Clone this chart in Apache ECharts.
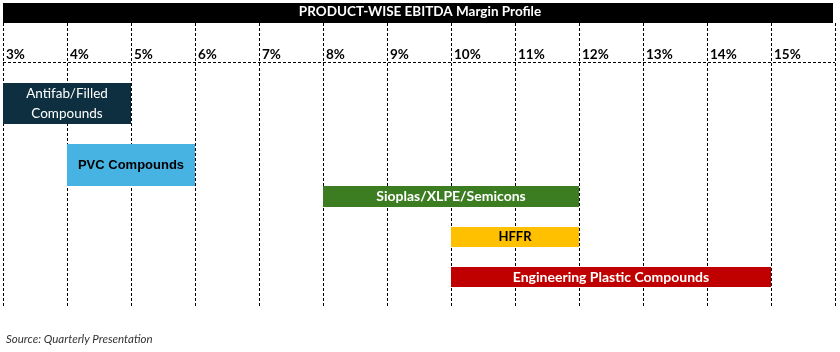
<!DOCTYPE html>
<html>
<head>
<meta charset="utf-8">
<script src="https://cdn.jsdelivr.net/npm/echarts@6/dist/echarts.min.js"></script>
<style>
  html, body { margin: 0; padding: 0; background: #ffffff; }
  #chart { width: 840px; height: 352px; }
</style>
</head>
<body>
<div id="chart"></div>
<script>
const PRODUCTS = [
  "Antifab/Filled\nCompounds",
  "PVC Compounds",
  "Sioplas/XLPE/Semicons",
  "HFFR",
  "Engineering Plastic Compounds",
];
const MARGIN_LOW = [3, 4, 8, 10, 10];
const MARGIN_HIGH = [5, 6, 12, 12, 15];
const AXIS_MIN = 3;
const AXIS_MAX = 16;

// vertical placement of each band inside the grid (px from grid top)
const BAND_LAYOUT = [
  { top: 60, height: 41 },
  { top: 121, height: 42 },
  { top: 163, height: 21 },
  { top: 204, height: 20 },
  { top: 244, height: 20 },
];
const BAND_STYLE = [
  { fill: "#0E2F40", text: "#ffffff", weight: "normal", font: "Lato", size: 13.5 },
  { fill: "#47B3E2", text: "#000000", weight: "bold", font: "Liberation Sans", size: 13 },
  { fill: "#3C7D22", text: "#ffffff", weight: "bold", font: "Lato", size: 14 },
  { fill: "#FFC000", text: "#000000", weight: "bold", font: "Lato", size: 13 },
  { fill: "#C00000", text: "#ffffff", weight: "bold", font: "Lato", size: 14 },
];

const chart = echarts.init(document.getElementById("chart"), null, { renderer: "canvas" });

chart.setOption({
  backgroundColor: "#ffffff",
  animation: false,
  grid: { left: 3, right: 5, top: 23, bottom: 45 },
  xAxis: {
    type: "value",
    position: "top",
    min: AXIS_MIN,
    max: AXIS_MAX,
    interval: 1,
    axisLine: { show: false },
    axisTick: { show: false },
    axisLabel: {
      inside: true,
      margin: 32,
      align: "left",
      verticalAlign: "middle",
      padding: [0, 0, 0, 3],
      color: "#000000",
      fontFamily: "Lato",
      fontWeight: "bold",
      fontSize: 13.5,
      formatter: (v) => (v >= AXIS_MAX ? "" : v + "%"),
    },
    splitLine: {
      show: true,
      lineStyle: { color: "#000000", width: 1, type: [3, 2] },
    },
  },
  yAxis: {
    type: "value",
    show: false,
    min: 0,
    max: 1,
    splitLine: { show: false },
  },
  graphic: [
    {
      type: "rect",
      left: 3,
      top: 3,
      shape: { width: 830, height: 20 },
      style: { fill: "#000000" },
    },
    {
      type: "text",
      left: "center",
      top: 5,
      style: {
        text: "PRODUCT-WISE EBITDA Margin Profile",
        fill: "#ffffff",
        font: "bold 13.5px Lato",
      },
    },
    {
      type: "line",
      shape: { x1: 3, y1: 62.5, x2: 835, y2: 62.5 },
      style: { stroke: "#000000", lineWidth: 1, lineDash: [3, 2] },
    },
    {
      type: "text",
      left: 6,
      top: 333,
      style: {
        text: "Source: Quarterly Presentation",
        fill: "#333333",
        font: "italic 11.5px Lato",
      },
    },
  ],
  series: [
    {
      type: "custom",
      data: PRODUCTS.map((name, i) => [MARGIN_LOW[i], MARGIN_HIGH[i], i]),
      encode: { x: [0, 1] },
      renderItem(params, api) {
        const i = api.value(2);
        const x0 = api.coord([api.value(0), 0])[0];
        const x1 = api.coord([api.value(1), 0])[0];
        const band = BAND_LAYOUT[i];
        const style = BAND_STYLE[i];
        const top = params.coordSys.y + band.top;
        return {
          type: "group",
          children: [
            {
              type: "rect",
              shape: { x: x0, y: top, width: x1 - x0, height: band.height },
              style: { fill: style.fill },
            },
            {
              type: "text",
              x: (x0 + x1) / 2,
              y: top + band.height / 2,
              style: {
                text: PRODUCTS[i],
                fill: style.text,
                align: "center",
                verticalAlign: "middle",
                fontFamily: style.font,
                fontWeight: style.weight,
                fontSize: style.size,
                lineHeight: 20,
              },
            },
          ],
        };
      },
    },
  ],
});
</script>
</body>
</html>
